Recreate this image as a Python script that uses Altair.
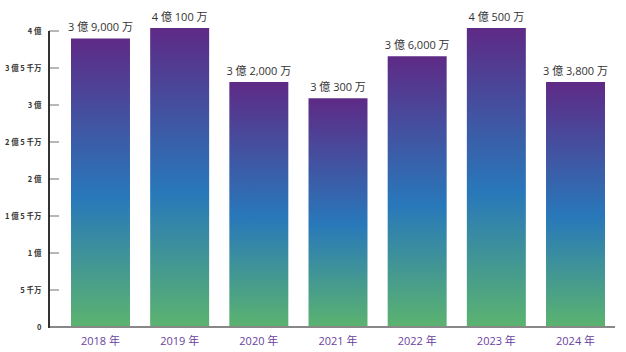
import altair as alt
import pandas as pd

years = ["2018 年", "2019 年", "2020 年", "2021 年", "2022 年", "2023 年", "2024 年"]
# bar heights (units: 万円)
heights = [39000, 40400, 33100, 30900, 36600, 40400, 33100]
value_labels = ["3 億 9,000 万", "4 億 100 万", "3 億 2,000 万", "3 億 300 万",
                "3 億 6,000 万", "4 億 500 万", "3 億 3,800 万"]
tick_values = [0, 5000, 10000, 15000, 20000, 25000, 30000, 35000, 40000]
tick_labels = ["0", "5 千万", "1 億", "1 億 5 千万", "2 億", "2 億 5 千万",
               "3 億", "3 億 5 千万", "4 億"]

FONT = "Noto Sans CJK JP"
TFONT = "Open Sans, Noto Sans CJK JP"
df = pd.DataFrame({"year": years, "h": heights, "lab": value_labels})
ticks_df = pd.DataFrame({"v": tick_values})

label_expr = "[" + ",".join("'" + t + "'" for t in tick_labels) + "][round(datum.value/5000)]"

xenc = alt.X("year:N", sort=years, title=None,
             scale=alt.Scale(range=[22, 556], paddingInner=0.255, paddingOuter=0),
             axis=alt.Axis(domain=False, ticks=False, labelAngle=0, labelFont=TFONT,
                           labelFontSize=11, labelColor="#6a3fa0", labelPadding=8))
yscale = alt.Scale(domain=[0, 40000], nice=False)
yaxis = alt.Axis(values=tick_values, labelExpr=label_expr, ticks=False,
                 grid=False, domain=False, title=None,
                 labelFont=FONT, labelFontSize=7.5, labelFontWeight="bold",
                 labelColor="#333333", labelPadding=8)

grad = alt.Gradient(
    gradient="linear",
    stops=[alt.GradientStop(color="#5bb36f", offset=0),
           alt.GradientStop(color="#2878ba", offset=0.45),
           alt.GradientStop(color="#5e2a86", offset=1)],
    x1=0, x2=0, y1=1, y2=0,
)

bars = alt.Chart(df).mark_bar(color=grad).encode(
    x=xenc,
    y=alt.Y("h:Q", scale=yscale, title=None, axis=yaxis),
)

text = alt.Chart(df).mark_text(baseline="bottom", dy=-5, font=TFONT, fontSize=11,
                               color="#333333").encode(
    x=alt.X("year:N", sort=years, title=None),
    y=alt.Y("h:Q", scale=yscale, title=None, axis=yaxis),
    text="lab:N",
)

yticks = alt.Chart(ticks_df).mark_rule(color="#888888", strokeWidth=1.2).encode(
    y=alt.Y("v:Q", scale=yscale, title=None, axis=yaxis),
    x=alt.value(0), x2=alt.value(10),
)

xline = alt.Chart(df).mark_rule(color="#888888", strokeWidth=2).encode(
    x=alt.value(0), x2=alt.value(566), y=alt.value(296),
)

yline = alt.Chart(df).mark_rule(color="#333333", strokeWidth=1.5).encode(
    x=alt.value(0), y=alt.value(0), y2=alt.value(296.5),
)

chart = alt.layer(bars, text, yticks, xline, yline).properties(
    width=566, height=296,
    autosize=alt.AutoSizeParams(type="none"),
    padding={"left": 49, "top": 31, "right": 11, "bottom": 25},
).configure_view(stroke=None)

chart.save("out.html", embed_options={"renderer": "svg", "actions": False})
